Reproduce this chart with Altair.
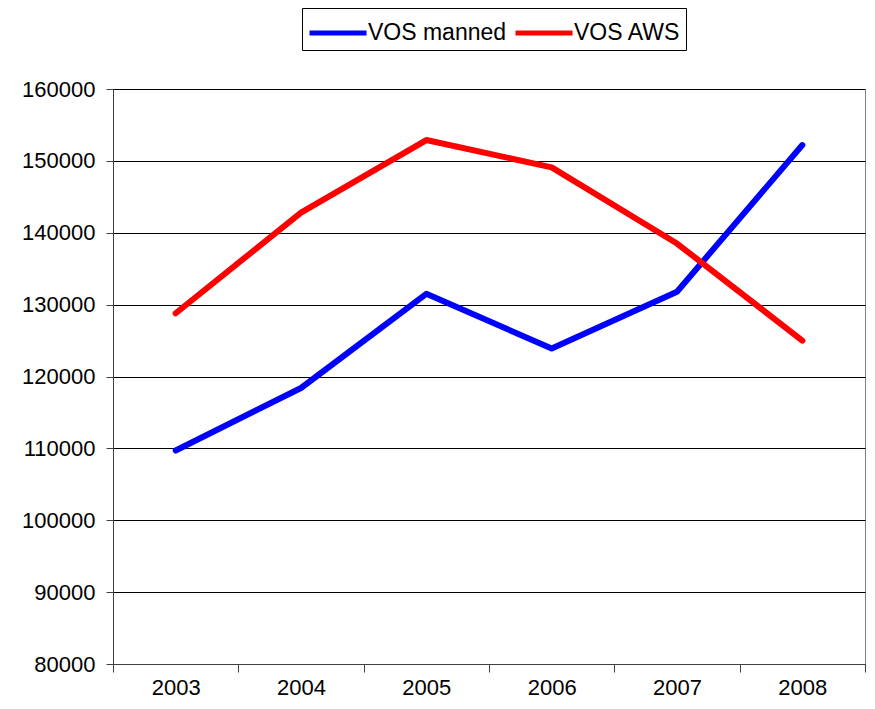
import altair as alt
import pandas as pd

years = ["2003", "2004", "2005", "2006", "2007", "2008"]
manned = [109700, 118400, 131500, 123900, 131800, 152200]
aws = [128800, 142800, 152900, 149100, 138500, 125000]
series = ["VOS manned", "VOS AWS"]
colors = ["#0000FF", "#FF0000"]
y_ticks = [80000, 90000, 100000, 110000, 120000, 130000, 140000, 150000, 160000]

df = pd.DataFrame({
    "year": years * 2,
    "value": manned + aws,
    "series": [series[0]] * len(years) + [series[1]] * len(years),
})

FONT = "Liberation Sans"

chart = alt.Chart(df).mark_line(
    strokeWidth=6, strokeCap="round", strokeJoin="round"
).encode(
    x=alt.X(
        "year:O",
        bandPosition=0.5,
        scale=alt.Scale(type="band", paddingInner=0, paddingOuter=0),
        axis=alt.Axis(
            title=None, labelAngle=0, tickBand="extent", tickSize=8,
            labelFontSize=22, labelFont=FONT, labelColor="black",
            labelPadding=5, domainColor="#404040", tickColor="#404040",
            grid=False,
        ),
    ),
    y=alt.Y(
        "value:Q",
        scale=alt.Scale(domain=[80000, 160000], nice=False, zero=False),
        axis=alt.Axis(
            title=None, values=y_ticks, format="d", tickSize=7,
            labelFontSize=22, labelFont=FONT, labelColor="black",
            labelPadding=11, domainColor="#404040", tickColor="#404040",
            grid=True, gridColor="#000000", gridWidth=1,
        ),
    ),
    color=alt.Color(
        "series:N",
        sort=series,
        scale=alt.Scale(domain=series, range=colors),
        legend=alt.Legend(
            title=None, orient="none", legendX=189, legendY=-81,
            direction="horizontal", symbolType="M-1,0H2.26", symbolSize=1225,
            symbolStrokeWidth=5, labelFontSize=23, labelFont=FONT,
            labelColor="black", strokeColor="black", fillColor="white",
            padding=5, columnPadding=-2, labelOffset=21,
        ),
    ),
).properties(
    width=752,
    height=575,
    autosize=alt.AutoSizeParams(type="none"),
    padding={"left": 105, "top": 81, "right": 2, "bottom": 37},
).configure_view(
    stroke="#808080", strokeWidth=1
)

chart.save("out.html", embed_options={"renderer": "svg", "actions": False})
